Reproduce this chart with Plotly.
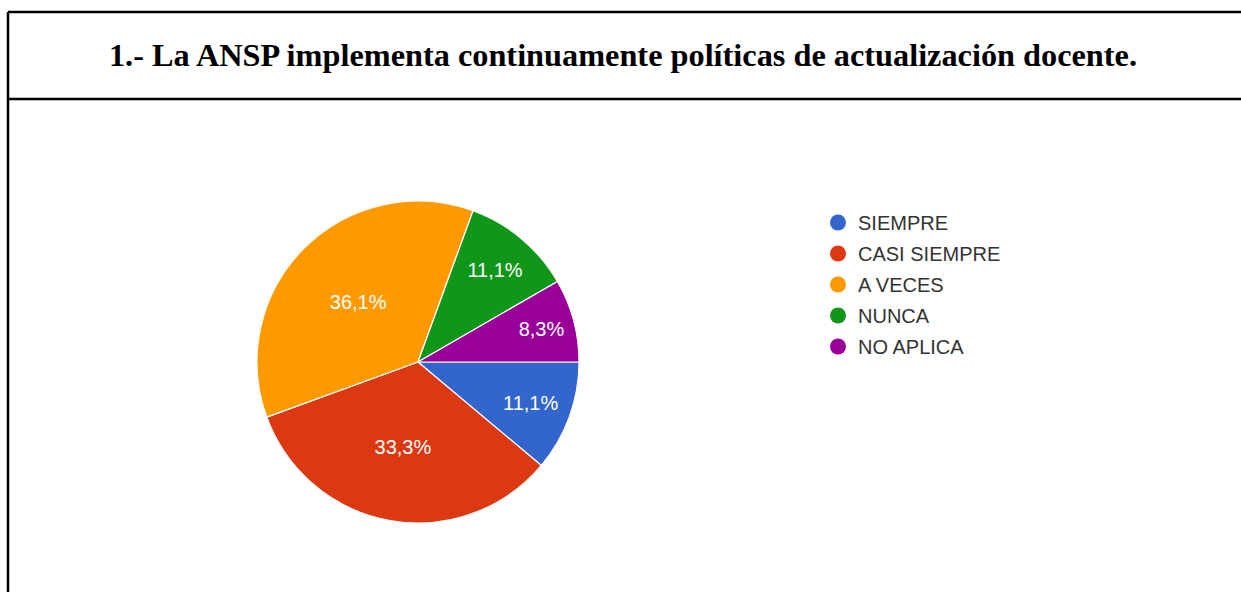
import plotly.graph_objects as go

title_text = "1.- La ANSP implementa continuamente políticas de actualización docente."
categories = ["SIEMPRE", "CASI SIEMPRE", "A VECES", "NUNCA", "NO APLICA"]
counts = [4, 12, 13, 4, 3]
colors = ["#3366cc", "#dc3912", "#ff9900", "#109618", "#990099"]

W, H = 1241, 592

fig = go.Figure()

# pie centred around (418, 362) px with radius ~161 px
cx, cy, r = 418, 362, 161
fig.add_trace(go.Pie(
    labels=categories,
    values=counts,
    marker=dict(colors=colors, line=dict(color="white", width=1.2)),
    sort=False,
    direction="clockwise",
    rotation=90,
    texttemplate="%{percent:.1%}",
    textposition="inside",
    insidetextorientation="horizontal",
    textfont=dict(family="Arial, Liberation Sans", size=20, color="white"),
    showlegend=False,
    hoverinfo="label+percent",
    domain=dict(x=[(cx - r) / W, (cx + r) / W], y=[(H - cy - r) / H, (H - cy + r) / H]),
))

# legend entries with circular markers
for i, (cat, col) in enumerate(zip(categories, colors)):
    fig.add_trace(go.Scatter(
        x=[None], y=[None], mode="markers", name=cat,
        marker=dict(symbol="circle", size=16, color=col),
        legendgroup=cat, showlegend=True,
    ))

fig.update_xaxes(visible=False)
fig.update_yaxes(visible=False)

# frame lines
line = dict(color="black", width=2.5)
fig.add_shape(type="line", xref="paper", yref="paper", x0=8 / W, x1=1, y0=1 - 12 / H, y1=1 - 12 / H, line=line)
fig.add_shape(type="line", xref="paper", yref="paper", x0=8 / W, x1=1, y0=1 - 99 / H, y1=1 - 99 / H, line=line)
fig.add_shape(type="line", xref="paper", yref="paper", x0=8 / W, x1=8 / W, y0=0, y1=1 - 12 / H, line=line)

fig.update_layout(
    width=W, height=H,
    margin=dict(l=0, r=0, t=0, b=0),
    paper_bgcolor="white", plot_bgcolor="white",
    separators=",.",
    title=dict(
        text="<b>" + title_text + "</b>",
        x=0.502, xanchor="center", y=1 - 55 / H, yanchor="middle",
        font=dict(family="Liberation Serif, Times New Roman", size=32.3, color="black"),
    ),
    legend=dict(
        x=818 / W, y=1 - 203 / H, xanchor="left", yanchor="top",
        font=dict(family="Arial, Liberation Sans", size=20, color="#333333"),
        tracegroupgap=2, itemsizing="trace", bgcolor="rgba(0,0,0,0)",
    ),
)

fig.write_html(
    "out.html",
    config={"displayModeBar": False},
    post_script="document.body.style.margin='0';document.body.style.overflow='hidden';",
)
